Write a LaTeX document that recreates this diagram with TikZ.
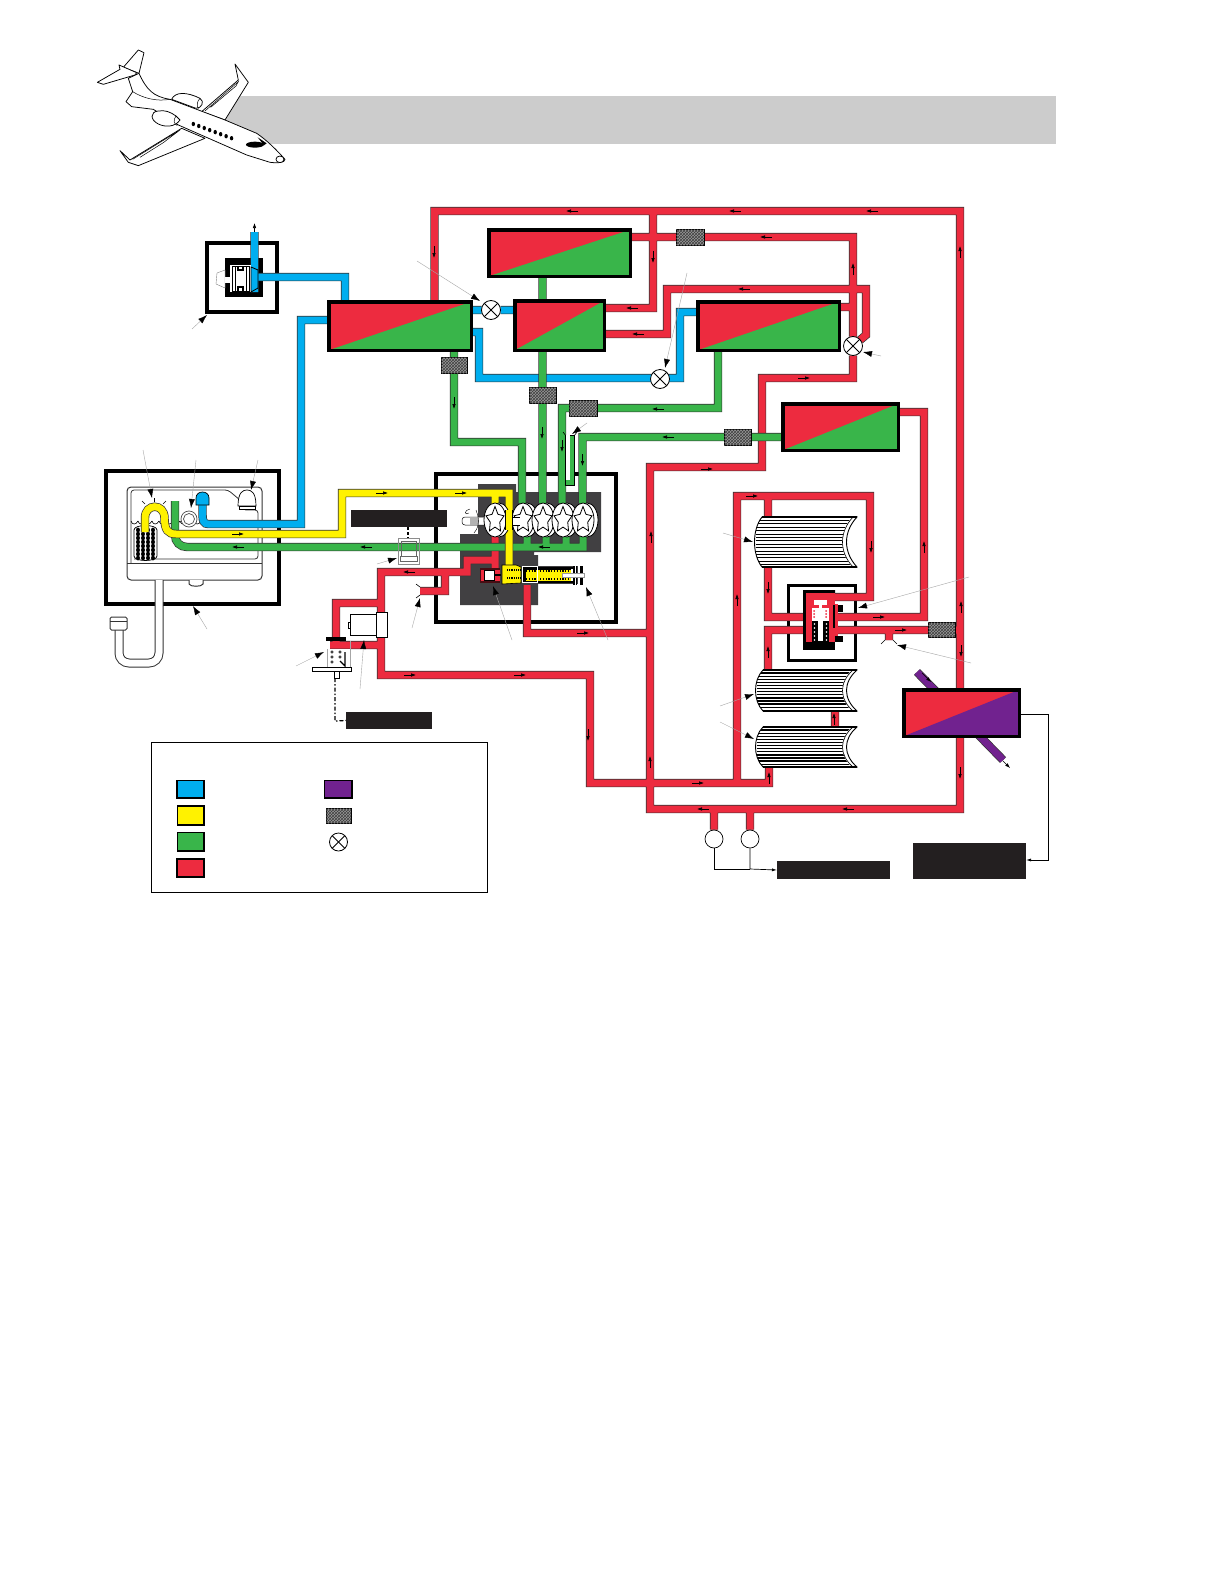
\documentclass[tikz,border=0pt]{standalone}
\usepackage{tikz}
\usetikzlibrary{arrows.meta,patterns,shapes.geometric,calc}
\pgfdeclarelayer{bg}
\pgfdeclarelayer{pipes}
\pgfsetlayers{bg,pipes,main}
\definecolor{hxred}{HTML}{ED2B3F}
\definecolor{hxgreen}{HTML}{39B54A}
\definecolor{hxblue}{HTML}{00AEEF}
\definecolor{hxyellow}{HTML}{FFF200}
\definecolor{hxpurple}{HTML}{71228F}
\definecolor{hxblack}{HTML}{231F20}
\definecolor{hxdark}{HTML}{414042}
\definecolor{hxband}{HTML}{CCCCCC}
\tikzset{
  hx/.style={draw=black,line width=3.5pt,inner sep=0pt,outer sep=0pt,
    path picture={
      \fill[hxred] (path picture bounding box.north west) rectangle (path picture bounding box.south east);
      \fill[#1] (path picture bounding box.south west) -- (path picture bounding box.north east) -- (path picture bounding box.south east) -- cycle;}},
  filt/.style={draw=black,line width=.6pt,fill=black!40,inner sep=0pt,outer sep=0pt,
    postaction={pattern=crosshatch,pattern color=black!75}},
  xvalve/.style={circle,draw=black,line width=.8pt,fill=white,inner sep=0pt,outer sep=0pt,minimum size=19pt,
    path picture={
      \draw[line width=.9pt] (path picture bounding box.north west) -- (path picture bounding box.south east);
      \draw[line width=.9pt] (path picture bounding box.south west) -- (path picture bounding box.north east);}},
  gauge/.style={circle,draw=black,line width=.7pt,fill=white,inner sep=0pt,minimum size=18pt},
  plabel/.style={fill=hxblack,inner sep=0pt,outer sep=0pt},
  frame/.style={draw=black,line width=3.8pt},
  outline/.style={draw=black!80,line width=8.4pt,line join=miter},
  inner/.style={line width=7pt,line join=miter},
  leader/.style={draw=black!35,line width=.4pt,-{Latex[black,length=9pt,width=6pt]}},
  flowa/.style={draw=black,line width=.55pt,-{Latex[length=5pt,width=3.5pt]}},
  ln/.style={draw=black,line width=.7pt},
  impeller/.style={star,star points=5,star point ratio=1.9,draw=black,line width=.8pt,fill=white,inner sep=0pt,minimum size=27pt,xscale=.7,transform shape},
}
\newcommand\hxb[6]{\pgfmathsetmacro\cxx{(#2+#4)/2}\pgfmathsetmacro\cyy{(#3+#5)/2}%
  \pgfmathsetmacro\wxx{#4-#2-3.5}\pgfmathsetmacro\hyy{#5-#3-3.5}%
  \node[hx=#6,minimum width=\wxx pt,minimum height=\hyy pt] (#1) at (\cxx,\cyy) {};}
\newcommand\pipes[2]{\draw[outline] #2; \draw[inner,#1] #2;}
\newcommand\flL[2]{\draw[flowa] ({#1+6},#2) -- ({#1-6},#2);}
\newcommand\flR[2]{\draw[flowa] ({#1-6},#2) -- ({#1+6},#2);}
\newcommand\flU[2]{\draw[flowa] (#1,{#2+6}) -- (#1,{#2-6});}
\newcommand\flD[2]{\draw[flowa] (#1,{#2-6}) -- (#1,{#2+6});}
\newcommand\ldr[4]{\coordinate (ls) at (#1,#2); \coordinate (le) at (#3,#4); \draw[leader] (ls) -- (le);}
\newcommand\cyl[6]{% x1 y1 x2 y2 stripe-step stripe-width
  \coordinate (c1) at ({#1+9},#2); \coordinate (c2) at (#3,#2);
  \coordinate (c3) at (#3,#4); \coordinate (c4) at ({#1+9},#4);
  \begin{scope}
   \clip (c1) -- (c2) .. controls ({#3-14},{#2+(#4-#2)*.3}) and ({#3-14},{#2+(#4-#2)*.7}) .. (c3) -- (c4) .. controls ({#1-1},{#2+(#4-#2)*.75}) and ({#1-1},{#2+(#4-#2)*.25}) .. cycle;
   \fill[white] (#1,#2) rectangle (#3,#4);
   \pgfmathsetmacro\ysec{#2+#5}
   \foreach \yy in {#2,\ysec,...,#4} {\draw[black,line width=#6pt] ({#1+3},\yy) -- (#3,\yy);}
   \draw[white,line width=4.5pt] ({#3-2},#2) .. controls ({#3-16},{#2+(#4-#2)*.3}) and ({#3-16},{#2+(#4-#2)*.7}) .. ({#3-2},#4);
  \end{scope}
  \draw[black,line width=.9pt] (c1) -- (c2) .. controls ({#3-14},{#2+(#4-#2)*.3}) and ({#3-14},{#2+(#4-#2)*.7}) .. (c3) -- (c4) .. controls ({#1-1},{#2+(#4-#2)*.75}) and ({#1-1},{#2+(#4-#2)*.25}) .. cycle;
  \draw[black,line width=.6pt] ({#3-4},#2) .. controls ({#3-18},{#2+(#4-#2)*.3}) and ({#3-18},{#2+(#4-#2)*.7}) .. ({#3-4},#4);
  \draw[black,line width=1.6pt] (c1) -- (c2) (c4) -- (c3);
}
\begin{document}
\begin{tikzpicture}[x=1pt,y=-1pt]
\useasboundingbox (0,0) rectangle (1224,1584);
\begin{pgfonlayer}{bg}
\fill[white] (0,0) rectangle (1224,1584);
\fill[hxband] (222,96) rectangle (1056,144);
% frames and machined blocks
\draw[frame] (207,243) rectangle (277,312);
\fill[black] (225,258) rectangle (263,297);
\draw[frame] (106,471) rectangle (279,604);
\draw[frame] (436,474) rectangle (616,622);
\fill[hxdark] (478,484) -- (516,484) -- (516,492) -- (601,492) -- (601,552) -- (534,552) -- (534,555) -- (538,555) -- (538,605) -- (460,605) -- (460,534) -- (478,534) -- cycle;
\draw[line width=3pt] (788,585) rectangle (855,660);
% reservoir
\draw[black!80,line width=1pt,rounded corners=4pt,fill=white] (127,487) rectangle (262,580);
\draw[black!80,line width=.8pt,rounded corners=3pt] (131,563) -- (131,490) -- (228,490) -- (240,500) -- (243,510) -- (258,510) -- (258,559) -- (134,559);
\draw[black!80,line width=.8pt] (127,563) -- (262,563);
\draw[black!80,line width=1pt,fill=white] (189,580) -- (189,584) .. controls (190,587) and (202,587) .. (203,584) -- (203,580);
\foreach \wx in {131,138,...,256} {\draw[black,line width=.6pt] (\wx,521) .. controls ({\wx+1},525) and ({\wx+5},525) .. ({\wx+7},521);}
\draw[black,line width=.7pt,fill=white] (134,530) .. controls (134,524) and (157,524) .. (157,530) -- (157,556) .. controls (157,562) and (134,562) .. (134,556) -- cycle;
\foreach \fx in {138,143,148,153} {\foreach \fy in {530,534,...,558} {\fill[black] (\fx,\fy) ellipse [x radius=2pt,y radius=2.4pt];}}
% filler neck
\draw[black!80,line width=9pt,line cap=butt,rounded corners=10pt] (159,580) -- (159,663) -- (119,663) -- (119,628);
\draw[white,line width=7pt,line cap=butt,rounded corners=10pt] (159,580) -- (159,663) -- (119,663) -- (119,628);
\draw[black!80,line width=1pt,fill=white,rounded corners=1.5pt] (110,617) rectangle (127,630);
\draw[black!80,line width=.6pt] (110,621) -- (127,621);
\end{pgfonlayer}

% heat exchanger boxes
\hxb{b0}{487}{228}{632}{278}{hxgreen}
\hxb{b1}{327}{300}{473}{352}{hxgreen}
\hxb{b2}{513}{299}{606}{352}{hxgreen}
\hxb{b3}{696}{300}{841}{352}{hxgreen}
\hxb{b4}{781}{402}{900}{452}{hxgreen}
\hxb{b5}{902}{688}{1021}{738}{hxpurple}
% filters
\node[filt,minimum width=26pt,minimum height=16pt] (f1) at (454,365) {};
\node[filt,minimum width=27pt,minimum height=16pt] (f2) at (542.5,395) {};
\node[filt,minimum width=28pt,minimum height=16pt] (f3) at (583,408.5) {};
\node[filt,minimum width=27pt,minimum height=16pt] (f4) at (737.5,437) {};
\node[filt,minimum width=28pt,minimum height=16pt] (f5) at (690,237.5) {};
\node[filt,minimum width=27pt,minimum height=15pt] (f6) at (941.5,630) {};
% valves
\node[xvalve] (v1) at (491,310) {};
\node[xvalve] (v2) at (660,379) {};
\node[xvalve] (v3) at (853,346) {};
% gauges
\node[gauge] (g1) at (714,839) {};
\node[gauge] (g2) at (750,839) {};
% black label plates
\node[plabel,minimum width=96pt,minimum height=17pt] (lab1) at (399,518.5) {};
\node[plabel,minimum width=86pt,minimum height=17pt] (lab2) at (389,720.5) {};
\node[plabel,minimum width=113pt,minimum height=18pt] (lab3) at (833.5,870) {};
\node[plabel,minimum width=113pt,minimum height=36pt] (lab4) at (969.5,861) {};

% corner coordinates
\coordinate (rTL) at (434.5,211); \coordinate (rTR) at (960,211);
\coordinate (rBR) at (960,809);   \coordinate (rBL) at (650,809);
\coordinate (rM1) at (650,467);   \coordinate (rM2) at (762,467);
\coordinate (rM3) at (762,378);   \coordinate (rM4) at (853,378);
\coordinate (rA) at (653,211);    \coordinate (rB) at (653,308);
\coordinate (rC) at (667,334);    \coordinate (rD) at (667,289);
\coordinate (rE) at (866,289);    \coordinate (rF) at (866,335);
\coordinate (rG) at (853,237);    \coordinate (rH) at (853,307);
\coordinate (rJ) at (924,412);    \coordinate (rK) at (924,617);
\coordinate (vcA) at (820,617);   \coordinate (vcB) at (820,630);
\coordinate (vcC) at (820,597);   \coordinate (rS) at (960,630);
\coordinate (rN1) at (737,783);   \coordinate (rN2) at (737,496);
\coordinate (rN3) at (870,496);   \coordinate (rN4) at (870,597);
\coordinate (rP1) at (768,496);   \coordinate (rP2) at (768,520);
\coordinate (rP3) at (768,560);   \coordinate (rP4) at (768,617);
\coordinate (rP5) at (768,675);   \coordinate (rP6) at (768,630);
\coordinate (rQ1) at (769,760);   \coordinate (rQ2) at (769,783);
\coordinate (rQ3) at (590,783);   \coordinate (rQ4) at (590,675);
\coordinate (rQ5) at (381,675);   \coordinate (rQ6) at (381,572);
\coordinate (rQ7) at (467,572);   \coordinate (rQ8) at (467,560);
\coordinate (rQ9) at (495,560);   \coordinate (rQa) at (495,532);
\coordinate (rQb) at (495,572);
\coordinate (rU1) at (420,591);   \coordinate (rU2) at (445,591);
\coordinate (rU3) at (445,572);
\coordinate (rW1) at (381,603);   \coordinate (rW2) at (336,603);
\coordinate (rW3) at (336,645);   \coordinate (rW4) at (381,645);
\coordinate (rW5) at (330,645);
\coordinate (rX1) at (527,585);   \coordinate (rX2) at (527,633);
\coordinate (rX3) at (650,633);
\coordinate (rT1) at (835,705);   \coordinate (rT2) at (835,732);
\coordinate (rY1) at (889,630);   \coordinate (rY2) at (889,640);
\coordinate (bU) at (254.5,232);  \coordinate (bD) at (254.5,292);
\coordinate (bH1) at (258,277);   \coordinate (bH2) at (345,277);
\coordinate (bL1) at (301,320);   \coordinate (bL2) at (301,524);
\coordinate (bL3) at (208,524);   \coordinate (bL4) at (202.5,515);
\coordinate (bL5) at (202.5,500);
\coordinate (bM1) at (479,332);   \coordinate (bM2) at (479,378);
\coordinate (bM3) at (680,378);   \coordinate (bM4) at (680,312);
\coordinate (gA1) at (453,442);   \coordinate (gA2) at (522,442);
\coordinate (gA3) at (522,503);
\coordinate (gB1) at (542.5,503);
\coordinate (gC1) at (718,408);   \coordinate (gC2) at (562,408);
\coordinate (gC3) at (562,503);
\coordinate (gD1) at (582.5,437); \coordinate (gD2) at (582.5,503);
\coordinate (gE1) at (175,501);   \coordinate (gE2) at (175,535);
\coordinate (gE3) at (187,547);   \coordinate (gE4) at (583,547);
\coordinate (gE5) at (583,530);
\coordinate (yA) at (145,532);    \coordinate (yB) at (145,518);
\coordinate (yC) at (164.5,518);  \coordinate (yD) at (176,534);
\coordinate (yE) at (342,534);    \coordinate (yF) at (342,493);
\coordinate (yG) at (509,493);    \coordinate (yH) at (509,567);
\coordinate (yI) at (495,493);    \coordinate (yJ) at (495,505);

\begin{pgfonlayer}{pipes}
% purple line through the last exchanger
\pipes{hxpurple}{(917,672) -- (1003,760)}
% red
\pipes{hxred}{
 (rTL |- b1.center) -- (rTL) -- (rTR) -- (rBR) -- (rBL) -- (rM1) -- (rM2) -- (rM3) -- (rM4) -- (v3)
 (rA) -- (rB) -- (rB -| b2.center)
 (rC -| b2.center) -- (rC) -- (rD) -- (rE) -- (rF) -- (v3)
 (rG -| b0.center) -- (rG) -- (v3)
 (rH) -- (rH -| b3.center)
 (rJ -| b4.center) -- (rJ) -- (rK) -- (vcA)
 (vcB) -- (rS)
 (rN1) -- (rN2) -- (rN3) -- (rN4) -- (vcC)
 (rP1) -- (rP2) (rP3) -- (rP4) -- (vcA)
 (rP5) -- (rP6) -- (vcB)
 (rT1) -- (rT2)
 (rQ1) -- (rQ2) -- (rQ3) -- (rQ4) -- (rQ5) -- (rQ6) -- (rQ7) -- (rQ8) -- (rQ9) -- (rQa)
 (rQ9) -- (rQb)
 (rU1) -- (rU2) -- (rU3)
 (rW1) -- (rW2) -- (rW3) -- (rW4)
 (rW5) -- (rW3)
 (rX1) -- (rX2) -- (rX3)
 (g1 |- rBL) -- (g1)
 (g2 |- rBL) -- (g2)
 (rY1) -- (rY2)
}
% blue
\pipes{hxblue}{
 (bU) -- (bD)
 (bH1) -- (bH2) -- (bH2 |- b1.center)
 (bL1 -| b1.center) -- (bL1) -- (bL2) -- (bL3) .. controls (204,524) and (202.5,521) .. (bL4) -- (bL5)
 (b1.center |- v1) -- (v1) -- (b2.center |- v1)
 (bM1 -| b1.center) -- (bM1) -- (bM2) -- (bM3) -- (bM4) -- (bM4 -| b3.center)
}
% green
\pipes{hxgreen}{
 (b0.center -| gB1) -- (gB1 |- b2.center)
 (gB1 |- b2.center) -- (gB1)
 (b1.center -| f1) -- (f1) -- (gA1 -| f1) -- (gA2) -- (gA3)
 (gC1 |- b3.center) -- (gC1) -- (gC2) -- (gC3)
 (gD1 -| b4.center) -- (gD1) -- (gD2)
 (gE1) -- (gE2) .. controls (175,542) and (180,547) .. (gE3) -- (gE4) -- (gE5)
 (527,530) -- (527,547) (546,530) -- (546,547) (566,530) -- (566,547)
}
% yellow
\pipes{hxyellow}{
 (yA) -- (yB) .. controls (145,503) and (164.5,503) .. (yC) .. controls (164.5,530) and (168,534) .. (yD) -- (yE) -- (yF) -- (yG) -- (yH)
 (yI) -- (yJ)
}
\end{pgfonlayer}

% blue cap over the pipes
\draw[black,line width=.7pt,fill=hxblue] (196,505) -- (196,498) .. controls (196,490) and (209,490) .. (209,498) -- (209,505) -- cycle;
% ring and bell in reservoir
\draw[black!70,line width=.7pt,fill=white] (189,519) circle [radius=8pt];
\draw[black!70,line width=.7pt] (189,519) circle [radius=5.5pt];
\draw[black,line width=.7pt,fill=white] (238,506) .. controls (238,492) and (243,490) .. (247,490) .. controls (251,490) and (256,492) .. (256,506) -- cycle;
\draw[black,line width=.7pt,fill=white] (239,506) rectangle (255,509);
% dashes above the element
\foreach \ax/\ay/\bx/\by in {142/501/145/504,154/498/154/502,166/501/163/504} {\draw[black,line width=.5pt] (\ax,\ay) -- (\bx,\by);}

% fan unit
\draw[black!50,line width=.4pt,fill=white] (225,270) -- (217,273) -- (216,284) -- (225,288) -- cycle;
\fill[white] (225,277) rectangle (231,283);
\fill[white] (230,265) rectangle (251,292);
\draw[black,line width=.9pt] (232,266) rectangle (249,291);
\draw[black,line width=.9pt] (235,266) -- (235,291) (246,266) -- (246,291);
\draw[black,line width=1.2pt] (238,266) -- (238,270) -- (243,270) -- (243,266) (238,291) -- (238,287) -- (243,287) -- (243,291);
\draw[black,line width=.8pt,fill=hxblue] (251,267) -- (258,270) -- (258,288) -- (251,292) -- cycle;
\coordinate (upA) at (254.5,232); \coordinate (upB) at (254.5,223);
\draw[flowa] (upA) -- (upB);

% pump
\draw[black,line width=.5pt,fill=white,rounded corners=3pt] (462,517) rectangle (520,525);
\fill[black!30] (470,517) rectangle (479,525);
\draw[black,line width=.4pt] (470,509) .. controls (464,510) and (464,516) .. (469,513);
\draw[black,line width=.4pt] (476,510) .. controls (481,522) and (477,530) .. (474,533);
\foreach \px/\nm in {495/a,523/b,543/c,563/d,583/e} {
  \draw[black,line width=.8pt,fill=white] ({\px+4},520) ellipse [x radius=11pt,y radius=17pt];
  \draw[black,line width=.8pt,fill=white] (\px,520) ellipse [x radius=11pt,y radius=17pt];
  \node[impeller] (imp\nm) at (\px,520) {};
}
\fill[white] (511,517) rectangle (520,525);
\draw[black,line width=.5pt] (511,517) -- (520,517) (511,525) -- (520,525);
% yellow over first impeller
\fill[hxyellow] (505.6,510) rectangle (512.4,530);
\draw[black,line width=.7pt] (505.2,510) -- (505.2,530) (512.8,510) -- (512.8,530);
% spool valve
\fill[black!70!hxred] (480,568) rectangle (500,583);
\fill[hxred] (481,570) rectangle (500,581);
\draw[black,line width=.4pt,fill=white] (484,570) rectangle (494,580);
\fill[black] (494,574) rectangle (501,576);
\draw[black,line width=.6pt,fill=hxyellow] (502,565) -- (516,565) -- (521,567) -- (521,583) -- (502,584) -- cycle;
\draw[black,line width=1.4pt,dash pattern=on .9pt off .9pt] (507,570) -- (521,570) (507,578) -- (521,578);
\fill[hxdark] (537,566) rectangle (578,584);
\fill[black] (523,567) rectangle (574,583);
\fill[hxyellow] (526,569.5) rectangle (571,580.5);
\draw[black,line width=1.1pt,dash pattern=on 1.1pt off 1.7pt] (526,571) -- (571,571) (526,579) -- (571,579);
\draw[white,line width=.9pt] (522,566) rectangle (537,582);
\fill[white] (571,569) rectangle (574,581);
\fill[black] (573,566) rectangle (577,585);
\draw[white,line width=.5pt] (575,566) -- (575,585);
\draw[white,line width=.5pt] (579,565.5) rectangle (583,585);
\fill[black] (579.5,566) rectangle (582.5,584.5);
\draw[black!40,line width=.4pt,fill=white] (562,573) rectangle (584,577);

% sensor on the green line
\draw[black!45,line width=.9pt] (398,538) rectangle (419,564);
\draw[black!60,line width=.6pt] (401,541) rectangle (416,557);
\draw[black!60,line width=.6pt,fill=white] (400,556) rectangle (417,561);
\coordinate (s1) at (408,527); \coordinate (s2) at (408,538);
\draw[black,line width=1.1pt,dash pattern=on 3pt off 2pt] (lab1.south -| s1) -- (s2);

% motor
\draw[black,line width=.9pt,fill=white] (350,614) rectangle (376,635);
\draw[black,line width=.9pt,fill=white] (376,612) rectangle (387,637);
\draw[black,line width=.6pt,fill=white] (348,622) rectangle (350,628);
% control valve
\fill[white] (328,649) rectangle (350,667);
\draw[black!35,line width=.5pt] (327,649) -- (327,667) (350,641) -- (350,667);
\fill[black] (326,637) rectangle (346,640.5);
\foreach \cx/\cy in {332/652,332/657,332/662,340/652,340/657} {\draw[black,line width=.5pt,fill=white] (\cx,\cy) circle [radius=1.3pt];}
\draw[black,line width=1.1pt] (340,661) -- (345,666) -- (345,652);
\draw[black,line width=.9pt,fill=white] (312,667) rectangle (351,671);
\draw[black,line width=.7pt,fill=white] (334,671) rectangle (339,678);
\coordinate (cvS) at (335,678); \coordinate (cvC) at (335,721);
\draw[black,line width=1.2pt,dash pattern=on 4pt off 2pt on 1.5pt off 2pt] (cvS) -- (cvC) -- (lab2.west);

% central valve
\fill[black] (803,590) -- (835,590) -- (835,593) -- (806,593) -- cycle;
\fill[black] (803,590) rectangle (806,650);
\fill[black] (803,642) rectangle (835,650);
\fill[black] (835,636) rectangle (843,642);
\fill[black] (838,605) rectangle (843,612);
\fill[hxred] (806,593) rectangle (835,642);
\fill[hxred] (835,604) rectangle (838,636);
\fill[black] (833,605) rectangle (835,628);
\fill[white] (814,600) rectangle (827,605);
\fill[white] (819,605) rectangle (822,608);
\fill[white] (812,608) rectangle (829,621);
\fill[black] (812,621) rectangle (829,642);
\fill[white] (818,621) rectangle (823,641);
\foreach \dy in {611,614,617} {\fill[hxred] (814,\dy) circle [radius=1pt]; \fill[hxred] (826,\dy) circle [radius=1pt];}
\foreach \dy in {624,628,632,636,640} {\fill[white] (814.5,\dy) circle [radius=.9pt]; \fill[white] (826.5,\dy) circle [radius=.9pt];}

% fuel filters
\cyl{753}{517}{857}{567}{3.4}{.9}
\cyl{754}{670}{857}{711}{3.1}{1.3}
\cyl{754}{727}{857}{767}{3.1}{1.3}

% fittings at open ends
\foreach \ax/\ay/\bx/\by in {420/587/416/584,420/595/416/598,885/640/881/644,893/640/897/644,566/436/563/432,574/436/577/432} {\draw[black,line width=.6pt] (\ax,\ay) -- (\bx,\by);}
% bypass tube
\draw[black,line width=.6pt,fill=hxgreen] (565,435) rectangle (574,485);
\fill[white] (566.2,435) rectangle (570,480);

% gauge wires
\coordinate (wJ) at (750,869);
\draw[ln] (g1.south) -- (g1.south |- wJ) -- (wJ);
\draw[ln,-{Latex[length=5pt,width=3pt]}] (g2.south) -- (wJ) -- (lab3.west);
\coordinate (wA) at (1048,714); \coordinate (wB) at (1048,860);
\draw[ln,-{Latex[length=5pt,width=3pt]}] (b5.east |- wA) -- (wA) -- (wB) -- (lab4.east |- wB);
\coordinate (pE1) at (1003,761); \coordinate (pE2) at (1010,768);
\draw[flowa] (pE1) -- (pE2);

% flow arrows
\foreach \fx/\fy in {572/211,735/211,872/211,632/308,638/334,744/289,766/237,658/409,668/437,238/547,366/547,544/547,409/572,703/809,848/809} {\flL{\fx}{\fy}}
\foreach \fx/\fy in {804/378,461/493,382/493,238/534,410/675,520/675,583/633,698/783,752/496,879/617,901/630,707/469} {\flR{\fx}{\fy}}
\foreach \fx/\fy in {853/269,651/537,650/762,737/600,768/652,924/547,961/607,960/252,769/778,834/719} {\flU{\fx}{\fy}}
\foreach \fx/\fy in {434/252,653/257,454/403,542/433,562/446,582.5/460,768/588,871/547,961/651,960/773,588/735} {\flD{\fx}{\fy}}
\coordinate (pA1) at (922,673); \coordinate (pA2) at (931,682);
\draw[flowa] (pA1) -- (pA2);

% leader lines
\ldr{192}{329}{207}{315}
\ldr{417}{261}{480}{301}
\ldr{687}{273}{665}{368}
\ldr{881}{356}{863}{352}
\ldr{587}{423}{572}{434}
\ldr{143}{450}{152}{498}
\ldr{196}{460}{191}{508}
\ldr{258}{460}{251}{490}
\ldr{207}{629}{193}{606}
\ldr{377}{564}{397}{558}
\ldr{412}{628}{420}{598}
\ldr{296}{666}{324}{652}
\ldr{360}{689}{364}{640}
\ldr{512}{640}{493}{586}
\ldr{608}{640}{586}{587}
\ldr{723}{533}{753}{542}
\ldr{969}{577}{858}{608}
\ldr{971}{663}{897}{645}
\ldr{720}{706}{754}{694}
\ldr{720}{722}{754}{739}

% legend
\draw[black,line width=.9pt] (151,742) rectangle (487,892);
\draw[black,line width=1.8pt,fill=hxblue] (177,780.5) rectangle (204,798);
\draw[black,line width=1.4pt,fill=hxyellow] (177.5,806) rectangle (204,825);
\draw[black,line width=1.4pt,fill=hxgreen] (177.5,832.5) rectangle (204,851);
\draw[black,line width=1.6pt,fill=hxred] (177,859) rectangle (204,877);
\draw[black,line width=1.8pt,fill=hxpurple] (324.5,780.5) rectangle (352,798);
\node[filt,minimum width=25pt,minimum height=15pt] (legF) at (338.5,815.5) {};
\node[xvalve,minimum size=18pt] (legV) at (338.5,842) {};

% airplane
\begin{scope}[shift={(90,30)},x=.3333pt,y=-.3333pt]
\tikzset{pl/.style={draw=black,line width=.75pt,fill=white,line join=round}}
\draw[pl] (335,245) -- (445,150) -- (435,102) -- (475,157) -- (405,270) -- cycle;
\draw[black,line width=.5pt] (345,243) -- (445,155) -- (438,168) -- (362,232);
\draw[pl] (245,208) .. controls (255,185) and (290,185) .. (330,205) .. controls (345,215) and (335,235) .. (318,235) -- cycle;
\draw[black,line width=.5pt] (330,205) .. controls (320,215) and (320,228) .. (325,236);
\draw[pl] (145,60) -- (162,68) -- (147,130) -- (100,112) -- cycle;
\draw[pl] (22,157) -- (90,118) -- (87,105) -- (140,128) -- (135,135) -- (40,163) -- cycle;
\draw[pl] (147,130) .. controls (170,180) and (190,200) .. (240,208) -- (405,270) -- (500,310) .. controls (530,330) and (560,360) .. (585,388) .. controls (585,398) and (565,400) .. (540,397) -- (470,375) -- (265,285) -- (190,238) -- (125,230) -- (108,215) -- (128,185) -- (115,145) -- cycle;
\draw[black,line width=.5pt] (128,185) .. controls (160,205) and (200,215) .. (240,208);
\draw[pl] (275,295) -- (120,390) -- (90,362) -- (115,397) -- (145,407) -- (345,325) -- cycle;
\draw[black,line width=.5pt] (128,388) -- (270,300) -- (220,338) -- (150,382);
\draw[pl] (205,243) .. controls (180,245) and (180,270) .. (205,282) .. controls (225,292) and (255,292) .. (270,270) -- (258,258) .. controls (240,245) and (225,240) .. (205,243) -- cycle;
\draw[black,line width=.5pt] (258,258) .. controls (250,270) and (250,280) .. (262,287);
\foreach \wi in {0,...,7} {\fill[black] ({310+\wi*16.4},{282+\wi*6.1}) ellipse [x radius=1.7pt,y radius=2.2pt];}
\fill[black] (495,344) ellipse [x radius=9pt,y radius=3pt];
\fill[black] (503,322) -- (530,340) -- (522,346) -- cycle;
\draw[pl] (570,388) ellipse [x radius=4pt,y radius=3.3pt];
\end{scope}
\end{tikzpicture}
\end{document}
